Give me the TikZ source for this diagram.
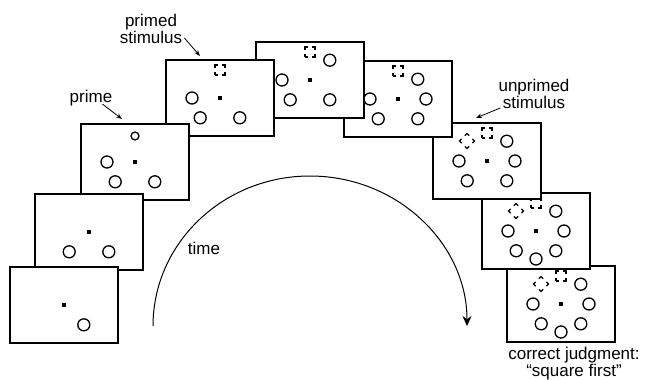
\documentclass[tikz,border=0pt]{standalone}
\usepackage{fontspec}
\setmainfont{Liberation Sans}
\usetikzlibrary{arrows.meta, calc}

% one display: frame, fixation dot and the ring of circles
\newcommand{\shot}[3]{%
    \node[screen] (#1) at (#2) {};
    \fill ($(#1)+(-1.6pt,-1.6pt)$) rectangle ($(#1)+(1.6pt,1.6pt)$);
    \foreach \a in {#3} \draw[disc] ($(#1)+(\a:28pt)$) circle[radius=6pt];
}
\newcommand{\sqcue}[1]{\draw[cue] ($(#1)+(-5pt,23pt)$) rectangle ($(#1)+(5pt,33pt)$);}
\newcommand{\dmcue}[1]{\draw[cue, dash pattern=on 6pt off 4.6pt, dash phase=3pt]
    ($(#1)+(-20pt,27.5pt)$) -- ($(#1)+(-12.5pt,20pt)$) -- ($(#1)+(-20pt,12.5pt)$) -- ($(#1)+(-27.5pt,20pt)$) -- cycle;}

\begin{document}
\begin{tikzpicture}[x=1pt, y=-1pt,
    every node/.style={font=\fontsize{17}{17}\selectfont},
    screen/.style={rectangle, draw=black, fill=white, line width=1.3pt, minimum width=108pt, minimum height=76pt, inner sep=0pt},
    disc/.style={line width=1.3pt},
    cue/.style={line width=1.3pt, dash pattern=on 6pt off 4pt, dash phase=3pt},
    lbl/.style={inner sep=0pt, align=center},
    pointer/.style={line width=0.8pt, -{Stealth[length=6pt, width=4.5pt]}},
    timearrow/.style={line width=1pt, -{Stealth[length=10pt, width=9pt]}}
]
    \useasboundingbox (0,0) rectangle (645,380);

    % displays, back to front
    \shot{f9}{561,304}{0,45,180,225,270,315}
    \sqcue{f9} \dmcue{f9}
    \shot{f8}{536,231}{0,45,180,225,270,315}
    \sqcue{f8} \dmcue{f8}
    \shot{f7}{487,161}{0,45,180,225,315}
    \sqcue{f7} \dmcue{f7}
    \shot{f6}{398,99}{0,45,180,225,315}
    \sqcue{f6}
    \shot{f5}{310,80}{45,180,225,315}
    \sqcue{f5}
    \shot{f4}{220,98}{180,225,315}
    \sqcue{f4}
    \shot{f3}{135,162}{180,225,315}
    \draw[disc] ($(f3)+(90:26pt)$) circle[radius=4pt];
    \shot{f2}{89,232}{225,315}
    \shot{f1}{64,305}{315}

    % labels
    \node[lbl] (primedlbl) at (151,29) {primed\\stimulus};
    \node[lbl] (primelbl) at (91,98) {prime};
    \node[lbl] (unprimedlbl) at (534,94) {unprimed\\stimulus};
    \node[lbl] (timelbl) at (204,248) {time};
    \node[lbl] (judgelbl) at (574,364) {correct judgment:\\“square first”};

    \coordinate (primedtip) at (200,56);
    \coordinate (primetip) at (122,119);
    \coordinate (unprimedtip) at (476,118);
    \coordinate (tstart) at (153,326);
    \coordinate (tend) at (467,326);

    \draw[pointer] ([shift={(2pt,6pt)}]primedlbl.south east) -- (primedtip);
    \draw[pointer] ([shift={(-10pt,2pt)}]primelbl.south east) -- (primetip);
    \draw[pointer] ([shift={(2pt,1pt)}]unprimedlbl.south west) -- (unprimedtip);
    \draw[timearrow] (tstart) arc[start angle=180, end angle=0, x radius=157pt, y radius=150pt];
\end{tikzpicture}
\end{document}
